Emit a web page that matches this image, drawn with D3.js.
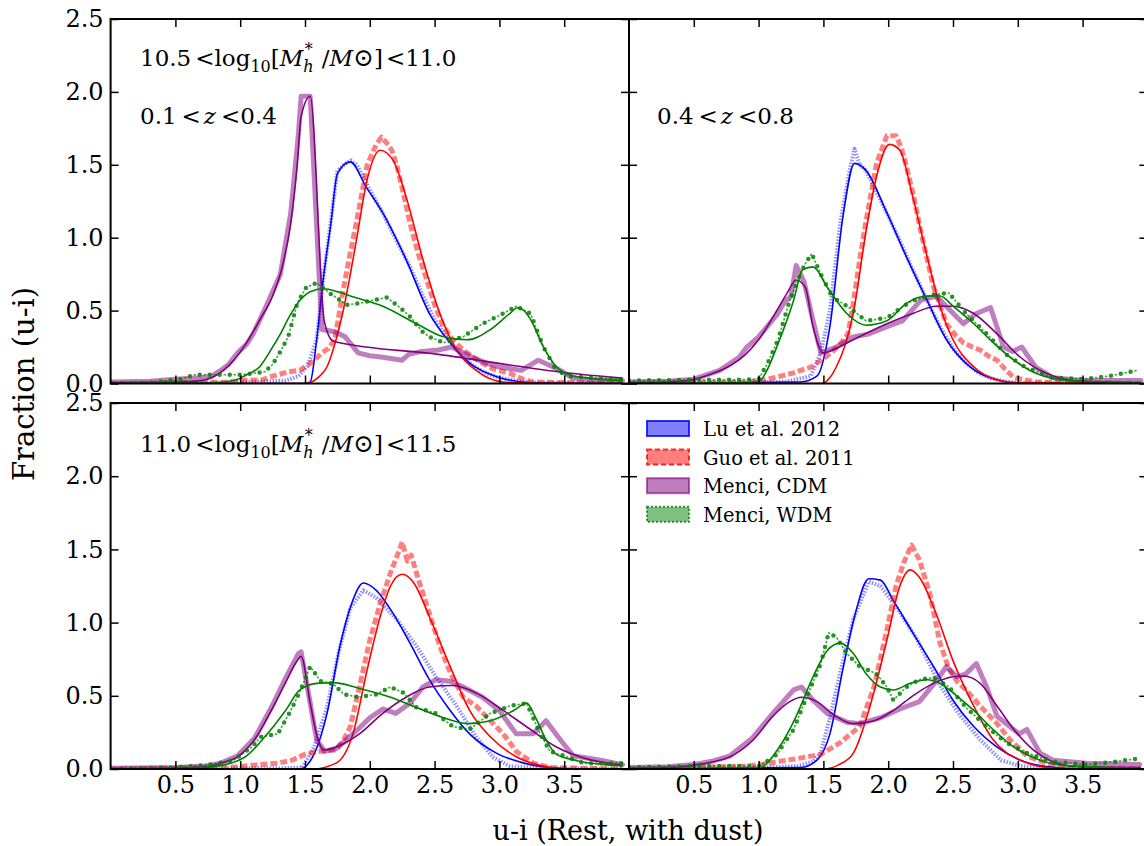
<!DOCTYPE html>
<html>
<head>
<meta charset="utf-8">
<script src="https://cdn.jsdelivr.net/npm/d3@7"></script>
<style>
body { margin: 0; background: #fff; }
text { font-family: "DejaVu Serif", serif; fill: #000; }
</style>
</head>
<body>
<svg id="chart" width="1144" height="846"></svg>
<script>
// tick labels
var xTicks = [0.5, 1.0, 1.5, 2.0, 2.5, 3.0, 3.5];
var xTickLabels = ["0.5", "1.0", "1.5", "2.0", "2.5", "3.0", "3.5"];
var yTicks = [0, 0.5, 1.0, 1.5, 2.0, 2.5];
var yTickLabels = ["0.0", "0.5", "1.0", "1.5", "2.0", "2.5"];
var modelNames = ["Lu et al. 2012", "Guo et al. 2011", "Menci, CDM", "Menci, WDM"];

// ---- top left: 0.1<z<0.4, 10.5<logM<11.0 ----
var luRawTL = [[0,0],[0.9,0.005],[1.0,0.01],[1.2,0.015],[1.35,0.02],[1.45,0.05],[1.52,0.12],[1.59,0.3],[1.64,0.72],[1.7,1.12],[1.75,1.46],[1.8,1.5],[1.85,1.53],[1.9,1.5],[2.0,1.33],[2.1,1.17],[2.2,0.99],[2.3,0.82],[2.4,0.62],[2.5,0.44],[2.6,0.31],[2.7,0.2],[2.8,0.12],[2.9,0.07],[3.0,0.04],[3.15,0.015],[3.3,0.005],[3.95,0]];
var luFitTL = [[0,0],[1.5,0],[1.54,0.01],[1.59,0.3],[1.64,0.71],[1.7,1.1],[1.75,1.44],[1.85,1.52],[1.97,1.35],[2.1,1.17],[2.28,0.85],[2.46,0.48],[2.62,0.28],[2.77,0.14],[2.98,0.047],[3.26,0.005],[3.95,0]];
var guoRawTL = [[0,0],[0.9,0.01],[1.0,0.02],[1.17,0.025],[1.25,0.05],[1.37,0.08],[1.46,0.09],[1.5,0.115],[1.56,0.15],[1.63,0.21],[1.68,0.24],[1.73,0.3],[1.79,0.62],[1.85,0.9],[1.9,1.12],[1.98,1.5],[2.05,1.64],[2.09,1.69],[2.13,1.65],[2.17,1.6],[2.21,1.49],[2.26,1.3],[2.31,1.1],[2.37,0.9],[2.44,0.71],[2.5,0.54],[2.57,0.39],[2.64,0.3],[2.72,0.23],[2.8,0.18],[2.87,0.14],[2.95,0.1],[3.08,0.07],[3.18,0.03],[3.26,0.01],[3.95,0]];
var guoFitTL = [[0,0],[1.51,0],[1.6,0.04],[1.67,0.115],[1.73,0.27],[1.79,0.48],[1.85,0.75],[1.9,1.0],[1.98,1.4],[2.08,1.6],[2.18,1.53],[2.28,1.28],[2.41,0.85],[2.54,0.48],[2.67,0.23],[2.82,0.09],[3.03,0.01],[3.3,0],[3.95,0]];
var cdmRawTL = [[0,0.01],[0.3,0.015],[0.5,0.03],[0.7,0.04],[0.78,0.05],[0.85,0.09],[0.91,0.13],[0.98,0.21],[1.05,0.27],[1.1,0.34],[1.2,0.53],[1.31,0.75],[1.39,1.17],[1.45,1.72],[1.47,1.97],[1.54,1.97],[1.63,0.37],[1.73,0.355],[1.81,0.32],[1.91,0.21],[2.0,0.19],[2.1,0.18],[2.25,0.16],[2.3,0.2],[2.4,0.22],[2.53,0.23],[2.63,0.25],[2.7,0.22],[2.79,0.18],[2.9,0.14],[2.99,0.115],[3.1,0.1],[3.17,0.09],[3.3,0.16],[3.45,0.1],[3.56,0.04],[3.7,0.025],[3.95,0.02]];
var cdmFitTL = [[0,0.005],[0.5,0.01],[0.7,0.02],[0.79,0.045],[0.95,0.16],[1.05,0.28],[1.15,0.435],[1.25,0.6],[1.33,0.82],[1.39,1.1],[1.44,1.5],[1.47,1.83],[1.54,1.97],[1.65,0.42],[1.72,0.29],[2.53,0.2],[3.51,0.074],[3.95,0.037]];
var wdmRawTL = [[0,0],[0.3,0.005],[0.54,0.03],[0.65,0.06],[0.8,0.06],[1.0,0.06],[1.19,0.08],[1.25,0.13],[1.31,0.22],[1.37,0.32],[1.44,0.55],[1.51,0.66],[1.59,0.69],[1.69,0.62],[1.82,0.54],[1.92,0.55],[2.02,0.57],[2.13,0.59],[2.22,0.53],[2.31,0.46],[2.4,0.36],[2.46,0.32],[2.57,0.28],[2.72,0.32],[2.87,0.41],[3.03,0.48],[3.13,0.53],[3.24,0.48],[3.34,0.25],[3.44,0.09],[3.54,0.05],[3.7,0.04],[3.95,0.03]];
var wdmFitTL = [[0,0],[0.8,0.005],[0.95,0.02],[1.05,0.06],[1.15,0.115],[1.23,0.22],[1.31,0.34],[1.38,0.46],[1.46,0.57],[1.54,0.63],[1.64,0.65],[1.75,0.63],[1.85,0.6],[2.1,0.53],[2.36,0.41],[2.57,0.32],[2.75,0.3],[2.93,0.37],[3.08,0.48],[3.14,0.52],[3.19,0.5],[3.24,0.44],[3.34,0.25],[3.44,0.115],[3.54,0.06],[3.7,0.035],[3.95,0.02]];

// ---- top right: 0.4<z<0.8, 10.5<logM<11.0 ----
var luRawTR = [[0,0],[0.9,0.005],[1.0,0.01],[1.2,0.01],[1.4,0.05],[1.48,0.21],[1.55,0.5],[1.63,1.1],[1.7,1.45],[1.74,1.61],[1.78,1.5],[1.83,1.46],[1.9,1.33],[2.0,1.15],[2.1,0.96],[2.2,0.76],[2.3,0.57],[2.4,0.39],[2.5,0.24],[2.6,0.14],[2.7,0.07],[2.8,0.035],[2.9,0.015],[3.0,0.005],[3.95,0]];
var luFitTR = [[0,0],[1.32,0.01],[1.45,0.05],[1.55,0.39],[1.65,1.14],[1.74,1.51],[1.83,1.46],[1.99,1.17],[2.14,0.87],[2.3,0.57],[2.45,0.3],[2.63,0.115],[2.84,0.025],[3.0,0],[3.95,0]];
var guoRawTR = [[0,0],[0.9,0.01],[1.05,0.025],[1.26,0.07],[1.41,0.115],[1.5,0.17],[1.56,0.21],[1.63,0.27],[1.69,0.34],[1.73,0.55],[1.78,0.85],[1.83,1.12],[1.91,1.51],[1.99,1.7],[2.06,1.7],[2.1,1.62],[2.14,1.49],[2.2,1.27],[2.25,1.05],[2.35,0.66],[2.45,0.41],[2.52,0.33],[2.58,0.28],[2.65,0.25],[2.71,0.23],[2.77,0.19],[2.84,0.16],[2.9,0.1],[2.97,0.04],[3.14,0.01],[3.95,0]];
var guoFitTR = [[0,0],[1.48,0],[1.55,0.04],[1.6,0.115],[1.67,0.27],[1.73,0.48],[1.83,1.05],[1.91,1.42],[2.01,1.64],[2.09,1.6],[2.19,1.28],[2.3,0.87],[2.4,0.53],[2.5,0.3],[2.66,0.115],[2.84,0.025],[3.0,0.005],[3.95,0]];
var cdmRawTR = [[0,0.01],[0.3,0.015],[0.5,0.03],[0.7,0.09],[0.85,0.18],[0.91,0.25],[1.0,0.32],[1.14,0.47],[1.2,0.56],[1.25,0.6],[1.29,0.81],[1.35,0.7],[1.41,0.47],[1.48,0.21],[1.6,0.25],[1.73,0.32],[1.85,0.34],[1.99,0.39],[2.11,0.43],[2.25,0.57],[2.37,0.6],[2.47,0.51],[2.58,0.41],[2.68,0.48],[2.79,0.52],[2.89,0.25],[2.96,0.22],[3.03,0.25],[3.14,0.11],[3.27,0.04],[3.5,0.02],[3.95,0.02]];
var cdmFitTR = [[0,0.005],[0.3,0.01],[0.48,0.025],[0.65,0.07],[0.79,0.127],[0.9,0.2],[1.0,0.3],[1.14,0.5],[1.22,0.62],[1.29,0.71],[1.36,0.66],[1.42,0.39],[1.5,0.21],[1.57,0.23],[1.73,0.3],[1.99,0.41],[2.19,0.48],[2.37,0.53],[2.5,0.53],[2.66,0.48],[2.84,0.34],[3.02,0.18],[3.22,0.07],[3.43,0.02],[3.7,0.008],[3.95,0.005]];
var wdmRawTR = [[0,0.02],[0.5,0.025],[0.8,0.025],[1.0,0.03],[1.07,0.14],[1.15,0.3],[1.24,0.57],[1.32,0.75],[1.36,0.82],[1.41,0.89],[1.48,0.75],[1.57,0.59],[1.65,0.55],[1.73,0.5],[1.83,0.43],[1.99,0.45],[2.1,0.52],[2.19,0.57],[2.35,0.61],[2.47,0.62],[2.6,0.48],[2.76,0.34],[2.91,0.2],[3.06,0.11],[3.27,0.04],[3.5,0.03],[3.7,0.05],[3.92,0.09]];
var wdmFitTR = [[0,0],[0.9,0.005],[1.01,0.02],[1.07,0.1],[1.14,0.25],[1.27,0.57],[1.34,0.78],[1.42,0.8],[1.53,0.66],[1.68,0.48],[1.83,0.4],[1.99,0.43],[2.14,0.55],[2.3,0.6],[2.4,0.6],[2.5,0.53],[2.66,0.41],[2.81,0.28],[2.97,0.16],[3.14,0.07],[3.4,0.02],[3.95,0.005]];

// ---- bottom left: 0.1<z<0.4, 11.0<logM<11.5 ----
var luRawBL = [[0,0],[1.0,0.005],[1.3,0.005],[1.48,0.01],[1.57,0.15],[1.67,0.42],[1.76,0.8],[1.85,1.1],[1.95,1.22],[2.05,1.17],[2.21,1.02],[2.36,0.84],[2.51,0.63],[2.67,0.43],[2.82,0.22],[2.95,0.08],[3.08,0.02],[3.3,0.005],[3.95,0]];
var luFitBL = [[0,0],[1.46,0],[1.56,0.084],[1.67,0.38],[1.77,0.84],[1.86,1.13],[1.95,1.27],[2.05,1.22],[2.16,1.09],[2.31,0.86],[2.46,0.61],[2.62,0.4],[2.77,0.24],[2.98,0.107],[3.19,0.04],[3.39,0.01],[3.6,0],[3.95,0]];
var guoRawBL = [[0,0],[0.9,0.01],[1.04,0.02],[1.15,0.03],[1.29,0.04],[1.4,0.06],[1.5,0.1],[1.6,0.12],[1.74,0.13],[1.8,0.2],[1.85,0.29],[1.92,0.56],[2.0,0.88],[2.08,1.13],[2.16,1.34],[2.23,1.5],[2.25,1.55],[2.29,1.42],[2.32,1.46],[2.37,1.31],[2.46,1.06],[2.54,0.84],[2.62,0.66],[2.72,0.49],[2.82,0.43],[2.93,0.33],[3.03,0.24],[3.13,0.12],[3.26,0.04],[3.39,0.01],[3.95,0]];
var guoFitBL = [[0,0],[1.56,0],[1.74,0.04],[1.87,0.24],[1.98,0.68],[2.08,1.04],[2.16,1.25],[2.25,1.33],[2.34,1.27],[2.46,1.04],[2.62,0.7],[2.77,0.4],[2.93,0.22],[3.13,0.084],[3.34,0.02],[3.5,0],[3.95,0]];
var cdmRawBL = [[0,0.005],[0.5,0.01],[0.73,0.02],[0.85,0.04],[0.98,0.09],[1.11,0.21],[1.24,0.42],[1.35,0.62],[1.45,0.79],[1.47,0.8],[1.52,0.55],[1.59,0.2],[1.65,0.12],[1.74,0.14],[1.82,0.2],[1.92,0.28],[2.0,0.35],[2.1,0.41],[2.2,0.38],[2.31,0.45],[2.41,0.56],[2.51,0.61],[2.62,0.6],[2.72,0.56],[2.87,0.49],[3.0,0.4],[3.13,0.24],[3.26,0.24],[3.36,0.33],[3.47,0.2],[3.57,0.09],[3.78,0.06],[3.95,0.03]];
var cdmFitBL = [[0,0],[0.5,0.005],[0.73,0.016],[0.85,0.04],[0.98,0.084],[1.11,0.2],[1.24,0.4],[1.35,0.59],[1.44,0.74],[1.47,0.77],[1.54,0.45],[1.6,0.2],[1.65,0.13],[1.74,0.15],[1.92,0.24],[2.1,0.38],[2.28,0.49],[2.46,0.56],[2.64,0.57],[2.82,0.52],[3.03,0.4],[3.24,0.27],[3.44,0.15],[3.65,0.075],[3.95,0.027]];
var wdmRawBL = [[0,0],[0.5,0.01],[0.77,0.03],[0.95,0.06],[1.09,0.15],[1.16,0.22],[1.29,0.24],[1.39,0.4],[1.44,0.49],[1.5,0.61],[1.54,0.7],[1.62,0.6],[1.72,0.58],[1.8,0.51],[1.92,0.49],[2.05,0.51],[2.16,0.56],[2.26,0.52],[2.36,0.42],[2.51,0.38],[2.64,0.29],[2.77,0.27],[2.93,0.38],[3.08,0.43],[3.21,0.45],[3.31,0.25],[3.39,0.12],[3.5,0.09],[3.65,0.04],[3.95,0.04]];
var wdmFitBL = [[0,0],[0.6,0.005],[0.8,0.016],[1.04,0.084],[1.19,0.22],[1.35,0.4],[1.46,0.54],[1.59,0.585],[1.72,0.59],[1.92,0.55],[2.16,0.49],[2.36,0.42],[2.57,0.35],[2.75,0.31],[2.93,0.33],[3.11,0.4],[3.21,0.45],[3.28,0.35],[3.36,0.2],[3.44,0.1],[3.6,0.057],[3.95,0.02]];

// ---- bottom right: 0.4<z<0.8, 11.0<logM<11.5 ----
var luRawBR = [[0,0],[0.9,0.005],[1.0,0.01],[1.3,0.02],[1.42,0.05],[1.48,0.11],[1.55,0.35],[1.63,0.66],[1.73,1.02],[1.85,1.28],[1.94,1.25],[2.06,1.11],[2.22,0.89],[2.4,0.57],[2.55,0.37],[2.71,0.2],[2.87,0.06],[3.02,0.02],[3.2,0.005],[3.95,0]];
var luFitBR = [[0,0],[1.32,0.01],[1.45,0.06],[1.55,0.24],[1.65,0.68],[1.74,1.04],[1.85,1.3],[1.94,1.29],[2.04,1.15],[2.19,0.93],[2.35,0.7],[2.5,0.47],[2.66,0.29],[2.84,0.15],[3.02,0.06],[3.22,0.016],[3.5,0],[3.95,0]];
var guoRawBR = [[0,0],[0.9,0.02],[1.01,0.03],[1.15,0.05],[1.29,0.07],[1.48,0.1],[1.63,0.18],[1.78,0.29],[1.89,0.56],[1.99,0.95],[2.06,1.25],[2.12,1.41],[2.18,1.53],[2.24,1.43],[2.32,1.2],[2.4,0.86],[2.47,0.68],[2.53,0.6],[2.6,0.54],[2.71,0.43],[2.84,0.31],[2.94,0.2],[3.07,0.09],[3.22,0.04],[3.37,0.01],[3.95,0]];
var guoFitBR = [[0,0],[1.5,0],[1.62,0.03],[1.73,0.107],[1.86,0.43],[1.99,0.88],[2.09,1.25],[2.17,1.36],[2.24,1.31],[2.37,1.06],[2.5,0.74],[2.66,0.43],[2.81,0.2],[3.02,0.06],[3.27,0.007],[3.5,0],[3.95,0]];
var cdmRawBR = [[0,0.01],[0.3,0.015],[0.5,0.03],[0.65,0.055],[0.78,0.09],[0.95,0.21],[1.11,0.38],[1.27,0.54],[1.33,0.56],[1.42,0.47],[1.53,0.38],[1.68,0.32],[1.78,0.31],[1.94,0.35],[2.09,0.41],[2.24,0.46],[2.37,0.6],[2.45,0.7],[2.53,0.63],[2.6,0.65],[2.68,0.72],[2.76,0.56],[2.84,0.36],[2.91,0.31],[3.01,0.24],[3.07,0.27],[3.17,0.11],[3.27,0.06],[3.53,0.04],[3.94,0.03]];
var cdmFitBR = [[0,0.005],[0.3,0.01],[0.5,0.027],[0.65,0.05],[0.78,0.084],[0.96,0.2],[1.11,0.36],[1.24,0.46],[1.33,0.49],[1.45,0.46],[1.58,0.37],[1.73,0.31],[1.89,0.33],[2.04,0.4],[2.19,0.5],[2.35,0.585],[2.5,0.63],[2.58,0.635],[2.71,0.585],[2.84,0.43],[2.97,0.27],[3.12,0.13],[3.27,0.05],[3.48,0.016],[3.95,0.01]];
var wdmRawBR = [[0,0.01],[0.5,0.02],[0.8,0.02],[1.01,0.02],[1.14,0.1],[1.27,0.27],[1.37,0.49],[1.48,0.72],[1.54,0.93],[1.6,0.9],[1.68,0.79],[1.78,0.7],[1.91,0.65],[1.99,0.56],[2.04,0.47],[2.14,0.56],[2.24,0.61],[2.35,0.625],[2.47,0.56],[2.6,0.42],[2.76,0.29],[2.91,0.18],[3.07,0.11],[3.27,0.05],[3.53,0.03],[3.75,0.05],[3.92,0.07]];
var wdmFitBR = [[0,0],[0.9,0.005],[1.01,0.01],[1.16,0.15],[1.29,0.36],[1.42,0.63],[1.53,0.81],[1.63,0.86],[1.73,0.79],[1.83,0.65],[1.94,0.56],[2.04,0.54],[2.17,0.585],[2.3,0.61],[2.4,0.585],[2.5,0.52],[2.66,0.4],[2.81,0.27],[2.97,0.15],[3.14,0.07],[3.35,0.025],[3.95,0.005]];

//Panel table built from the arrays above
var panels = [
    { col: 0, row: 0, raw: [luRawTL, guoRawTL, cdmRawTL, wdmRawTL], fit: [luFitTL, guoFitTL, cdmFitTL, wdmFitTL] },
    { col: 1, row: 0, raw: [luRawTR, guoRawTR, cdmRawTR, wdmRawTR], fit: [luFitTR, guoFitTR, cdmFitTR, wdmFitTR] },
    { col: 0, row: 1, raw: [luRawBL, guoRawBL, cdmRawBL, wdmRawBL], fit: [luFitBL, guoFitBL, cdmFitBL, wdmFitBL] },
    { col: 1, row: 1, raw: [luRawBR, guoRawBR, cdmRawBR, wdmRawBR], fit: [luFitBR, guoFitBR, cdmFitBR, wdmFitBR] }
];

var colors = ["#0000ff", "#ff0000", "#800080", "#008000"];
//raw histogram styles: lu crosses, guo dashed, cdm solid, wdm dash-dot
var rawWidth = [4, 5, 5, 4.5];
var rawOpacity = [0.45, 0.5, 0.5, 0.85];
var rawDash = ["1.5,1.5", "7,3", null, "0,10"];
var rawCap = ["butt", "butt", "round", "round"];

//Layout of the 2x2 grid
var colX = [110.6, 629];
var panelW = 518.4;
var rowY = [19, 403];
var panelH = [364.5, 366];

var svg = d3.select("#chart");

panels.forEach(function(p, pi) {
    var x0 = colX[p.col], y0 = rowY[p.row], h = panelH[p.row];
    var x = d3.scaleLinear().domain([0, 4]).range([x0, x0 + panelW]);
    var y = d3.scaleLinear().domain([0, 2.5]).range([y0 + h, y0]);

    svg.append("clipPath").attr("id", "clip" + pi)
        .append("rect").attr("x", x0).attr("y", y0).attr("width", panelW).attr("height", h);

    var plot = svg.append("g").attr("clip-path", "url(#clip" + pi + ")");
    var rawLine = d3.line().x(function(d) { return x(d[0]); }).y(function(d) { return y(d[1]); });
    var fitLine = d3.line().curve(d3.curveMonotoneX).x(function(d) { return x(d[0]); }).y(function(d) { return y(d[1]); });

    for (var m = 0; m < 4; m++) {
        plot.append("path").datum(p.raw[m])
            .attr("d", rawLine)
            .attr("fill", "none")
            .attr("stroke", colors[m])
            .attr("stroke-width", rawWidth[m])
            .attr("stroke-opacity", rawOpacity[m])
            .attr("stroke-dasharray", rawDash[m])
            .attr("stroke-linecap", rawCap[m])
            .attr("stroke-linejoin", "round");
        if (m === 3) {
            //thin dashes between the dots of the dash-dot line
            plot.append("path").datum(p.raw[m])
                .attr("d", rawLine)
                .attr("fill", "none")
                .attr("stroke", colors[m])
                .attr("stroke-width", 1.6)
                .attr("stroke-opacity", 0.7)
                .attr("stroke-dasharray", "2.5,7.5")
                .attr("stroke-dashoffset", -3.75);
        }
        plot.append("path").datum(p.fit[m])
            .attr("d", fitLine)
            .attr("fill", "none")
            .attr("stroke", colors[m])
            .attr("stroke-width", 1.6);
    }

    //Axes with inward ticks on all four sides
    var showX = p.row === 1, showY = p.col === 0;
    var bottom = svg.append("g").attr("transform", "translate(0," + (y0 + h) + ")")
        .call(d3.axisBottom(x).tickValues(xTicks).tickSize(-8).tickPadding(7)
            .tickFormat(function(d, i) { return showX ? xTickLabels[i] : ""; }));
    var top = svg.append("g").attr("transform", "translate(0," + y0 + ")")
        .call(d3.axisTop(x).tickValues(xTicks).tickSize(-8).tickFormat(""));
    var left = svg.append("g").attr("transform", "translate(" + x0 + ",0)")
        .call(d3.axisLeft(y).tickValues(yTicks).tickSize(-8).tickPadding(7)
            .tickFormat(function(d, i) { return showY ? yTickLabels[i] : ""; }));
    var right = svg.append("g").attr("transform", "translate(" + (x0 + panelW) + ",0)")
        .call(d3.axisRight(y).tickValues(yTicks).tickSize(-8).tickFormat(""));
    [bottom, top, left, right].forEach(function(a) {
        a.select(".domain").remove();
        a.selectAll(".tick line").attr("stroke", "#000").attr("stroke-width", 1.5);
        a.selectAll(".tick text").style("font-family", "'DejaVu Serif', serif").style("font-size", "24px").attr("fill", "#000");
    });

    svg.append("rect").attr("x", x0).attr("y", y0).attr("width", panelW).attr("height", h)
        .attr("fill", "none").attr("stroke", "#000").attr("stroke-width", 2);
});

//Panel annotations in math style
function massLabel(xp, yp, lo, hi) {
    var t = svg.append("text").attr("x", xp).attr("y", yp).style("font-size", "23px");
    t.append("tspan").text(lo);
    t.append("tspan").text("<").attr("dx", 4);
    t.append("tspan").text("log");
    t.append("tspan").text("10").style("font-size", "16px").attr("dy", 6);
    t.append("tspan").text("[").attr("dy", -6);
    t.append("tspan").text("M").style("font-style", "italic");
    t.append("tspan").text("h").style("font-style", "italic").style("font-size", "16px").attr("dy", 6);
    t.append("tspan").text("*").style("font-size", "16px").attr("dx", -9).attr("dy", -17);
    t.append("tspan").text("/").attr("dy", 11).attr("dx", 9);
    t.append("tspan").text("M").style("font-style", "italic");
    t.append("tspan").text("\u2299").style("font-size", "25px");
    t.append("tspan").text("]");
    t.append("tspan").text("<").attr("dx", 3);
    t.append("tspan").text(hi);
}
function zLabel(xp, yp, lo, hi) {
    var t = svg.append("text").attr("x", xp).attr("y", yp).style("font-size", "23px");
    t.append("tspan").text(lo);
    t.append("tspan").text("<").attr("dx", 5);
    t.append("tspan").text("z").style("font-style", "italic").attr("dx", 3);
    t.append("tspan").text("<").attr("dx", 5);
    t.append("tspan").text(hi);
}
massLabel(140, 66, "10.5", "11.0");
zLabel(140, 124, "0.1", "0.4");
zLabel(657, 124, "0.4", "0.8");
massLabel(140, 452, "11.0", "11.5");

//Legend (patches) in the bottom right panel
var legendDash = [null, "5,3", null, "2,2"];
var legend = svg.append("g");
modelNames.forEach(function(name, i) {
    var ly = 421 + i * 28.6;
    legend.append("rect").attr("x", 647).attr("y", ly).attr("width", 42).attr("height", 15)
        .attr("fill", colors[i]).attr("fill-opacity", 0.5)
        .attr("stroke", colors[i]).attr("stroke-opacity", i === 2 ? 0.6 : 0.8)
        .attr("stroke-width", 2).attr("stroke-dasharray", legendDash[i]);
    legend.append("text").attr("x", 703).attr("y", ly + 15).style("font-size", "19.5px").text(name);
});

//Axis titles
svg.append("text").attr("x", 628).attr("y", 840).attr("text-anchor", "middle")
    .style("font-size", "27px").text("u-i (Rest, with dust)");
svg.append("text").attr("transform", "translate(34,384) rotate(-90)").attr("text-anchor", "middle")
    .style("font-size", "29px").text("Fraction (u-i)");
</script>
</body>
</html>
